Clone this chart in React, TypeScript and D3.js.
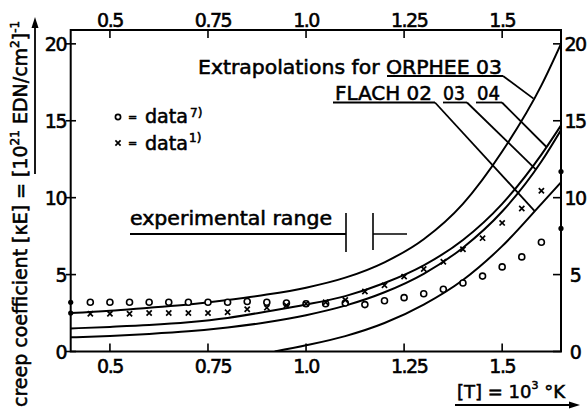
import React from 'react';
import * as d3 from 'd3';

// Axis ticks
const xTicks = [0.5, 0.75, 1.0, 1.25, 1.5];
const xTickLabels = ['0.5', '0.75', '1.0', '1.25', '1.5'];
const yTicks = [0, 5, 10, 15, 20];
const yTickLabels = ['0', '5', '10', '15', '20'];

// Extrapolated creep coefficient curves (10^21 EDN/cm^2)^-1 vs T (10^3 K)
const curveX = [0.4, 0.5, 0.6, 0.7, 0.8, 0.9, 1.0, 1.1, 1.2, 1.3, 1.4, 1.5, 1.6, 1.65];
const orphee03 = [2.5, 2.65, 2.85, 3.05, 3.35, 3.7, 4.15, 4.8, 5.8, 7.3, 9.6, 13.0, 17.3, 20.0];
const flach04 = [1.5, 1.6, 1.72, 1.9, 2.18, 2.6, 3.05, 3.6, 4.45, 5.6, 7.25, 9.6, 12.8, 14.7];
const flach03 = [0.92, 1.01, 1.14, 1.31, 1.56, 1.9, 2.36, 2.98, 3.85, 5.05, 6.75, 9.1, 12.35, 14.4];
const flach02X = [0.92, 1.0, 1.1, 1.2, 1.3, 1.4, 1.5, 1.6, 1.65];
const flach02 = [0.0, 0.4, 1.0, 1.85, 3.05, 4.65, 6.85, 9.6, 11.0];

// Measured data
const dataX = [0.4, 0.45, 0.5, 0.55, 0.6, 0.65, 0.7, 0.75, 0.8, 0.85, 0.9, 0.95, 1.0,
  1.05, 1.1, 1.15, 1.2, 1.25, 1.3, 1.35, 1.4, 1.45, 1.5, 1.55, 1.6, 1.65];
const data7 = [3.2, 3.2, 3.2, 3.2, 3.2, 3.2, 3.2, 3.2, 3.2, 3.25, 3.2, 3.15, 3.1,
  3.1, 3.15, 3.05, 3.3, 3.5, 3.75, 4.05, 4.45, 4.9, 5.5, 6.15, 7.1, 8.0];
const data1 = [2.5, 2.45, 2.45, 2.45, 2.5, 2.5, 2.5, 2.5, 2.55, 2.75, 2.85, 3.0, 3.1,
  3.2, 3.35, 3.9, 4.3, 4.87, 5.36, 5.83, 6.65, 7.37, 8.36, 9.3, 10.45, 11.7];

const X0 = 0.4, X1 = 1.65;
const x = d3.scaleLinear().domain([X0, X1]).range([70.7, 561]);
const y = d3.scaleLinear().domain([0, 20.9]).range([351.5, 30]);

const FONT = 'DejaVu Sans';

function pathOf(xs: number[], ys: number[]) {
  return d3.line<number>()
    .x((_, i) => x(xs[i]))
    .y((d) => y(d))
    .curve(d3.curveMonotoneX)(ys) as string;
}

// value of a tabulated curve at v (linear between nodes)
function valueAt(xs: number[], ys: number[], v: number) {
  const i = Math.max(1, Math.min(xs.length - 1, d3.bisectLeft(xs, v)));
  const t = (v - xs[i - 1]) / (xs[i] - xs[i - 1]);
  return ys[i - 1] + t * (ys[i] - ys[i - 1]);
}

function Cross({ cx, cy }: { cx: number; cy: number }) {
  const s = 2.6;
  return (
    <path d={`M${cx - s},${cy - s}L${cx + s},${cy + s}M${cx - s},${cy + s}L${cx + s},${cy - s}`}
      stroke="#000" strokeWidth={1.7} />
  );
}

export default function App() {
  const left = x(X0), right = x(X1), top = y(20.9), bottom = y(0);

  const curves = [
    { xs: curveX, ys: orphee03 },
    { xs: curveX, ys: flach04 },
    { xs: curveX, ys: flach03 },
    { xs: flach02X, ys: flach02 },
  ];

  // leader lines from the labels to their curves
  const leaders = [
    { from: [503, 76], xs: curveX, ys: orphee03, at: 1.58 },
    { from: [435, 102.5], xs: flach02X, ys: flach02, at: 1.583 },
    { from: [467, 102.5], xs: curveX, ys: flach03, at: 1.585 },
    { from: [502, 102.5], xs: curveX, ys: flach04, at: 1.613 },
  ];

  const edge = (v: number) => v === X0 || v === X1;

  return (
    <svg width={587} height={412} viewBox="0 0 587 412"
      style={{ position: 'absolute', left: 0, top: 0, background: '#fff' }}
      fontFamily={FONT} fill="#000">
      <defs>
        <clipPath id="plotArea">
          <rect x={left} y={top} width={right - left} height={bottom - top} />
        </clipPath>
      </defs>

      {/* frame */}
      <rect x={left} y={top} width={right - left} height={bottom - top}
        fill="none" stroke="#000" strokeWidth={2} />

      <g stroke="#000" strokeWidth={0.55}>
        {/* x ticks, bottom and top */}
        {xTicks.map((t, i) => (
          <g key={'xt' + i}>
            <line x1={x(t)} x2={x(t)} y1={bottom} y2={bottom - 8} strokeWidth={1.6} />
            <line x1={x(t)} x2={x(t)} y1={top} y2={top + 8} strokeWidth={1.6} />
            <text x={x(t) + (xTickLabels[i].length > 3 ? 5 : 0)} y={373} fontSize={19}
              textAnchor="middle" letterSpacing={-1.5}>{xTickLabels[i]}</text>
            <text x={x(t) + (xTickLabels[i].length > 3 ? 5 : 0)} y={27} fontSize={19}
              textAnchor="middle" letterSpacing={-1.5}>{xTickLabels[i]}</text>
          </g>
        ))}

        {/* y ticks, left and right */}
        {yTicks.map((t, i) => (
          <g key={'yt' + i}>
            <line x1={66} x2={76} y1={y(t)} y2={y(t)} strokeWidth={1.6} />
            <line x1={right - 8} x2={right} y1={y(t)} y2={y(t)} strokeWidth={1.6} />
            <text x={66} y={y(t) + 7} fontSize={19} textAnchor="end" letterSpacing={-1.5}>{yTickLabels[i]}</text>
            <text x={575} y={y(t) + 7} fontSize={19} textAnchor="middle" letterSpacing={-1.5}>{yTickLabels[i]}</text>
          </g>
        ))}
      </g>

      {/* curves */}
      <g clipPath="url(#plotArea)" fill="none" stroke="#000" strokeWidth={2}>
        {curves.map((c, i) => <path key={'c' + i} d={pathOf(c.xs, c.ys)} />)}
      </g>

      {/* data 7): circles */}
      {dataX.map((v, i) => edge(v)
        ? <circle key={'o' + i} cx={x(v)} cy={y(data7[i])} r={2.6} fill="#000" />
        : <circle key={'o' + i} cx={x(v)} cy={y(data7[i])} r={3} fill="#fff" stroke="#000" strokeWidth={1.6} />)}

      {/* data 1): crosses */}
      {dataX.map((v, i) => edge(v)
        ? <circle key={'x' + i} cx={x(v)} cy={y(data1[i])} r={2.6} fill="#000" />
        : <Cross key={'x' + i} cx={x(v)} cy={y(data1[i])} />)}

      {/* legend */}
      <circle cx={118} cy={117} r={2.6} fill="#fff" stroke="#000" strokeWidth={1.7} />
      <Cross cx={118} cy={143} />
      <g stroke="#000" strokeWidth={0.55}>
        <text x={128} y={121} fontSize={11}>=</text>
        <text x={145} y={123} fontSize={19} textLength={43} lengthAdjust="spacingAndGlyphs">data</text>
        <text x={190} y={117} fontSize={12}>7)</text>
        <text x={128} y={147} fontSize={11}>=</text>
        <text x={145} y={150} fontSize={19} textLength={43} lengthAdjust="spacingAndGlyphs">data</text>
        <text x={189} y={142} fontSize={12}>1)</text>
      </g>

      {/* curve labels */}
      <g stroke="#000" strokeWidth={0.55}>
        <text x={198} y={73.5} fontSize={20} textLength={304} lengthAdjust="spacingAndGlyphs">Extrapolations for ORPHEE 03</text>
        <text x={335} y={99.5} fontSize={20} textLength={97} lengthAdjust="spacingAndGlyphs">FLACH 02</text>
        <text x={443} y={99.5} fontSize={20} textLength={22} lengthAdjust="spacingAndGlyphs">03</text>
        <text x={477} y={99.5} fontSize={20} textLength={23} lengthAdjust="spacingAndGlyphs">04</text>
      </g>
      <line x1={387} x2={503} y1={76} y2={76} stroke="#000" strokeWidth={1.8} />
      <line x1={333} x2={435} y1={102.5} y2={102.5} stroke="#000" strokeWidth={1.8} />
      <line x1={443} x2={467} y1={102.5} y2={102.5} stroke="#000" strokeWidth={1.8} />
      <line x1={476} x2={502} y1={102.5} y2={102.5} stroke="#000" strokeWidth={1.8} />
      {leaders.map((l, i) => (
        <line key={'l' + i} x1={l.from[0]} y1={l.from[1]}
          x2={x(l.at)} y2={y(valueAt(l.xs, l.ys, l.at))} stroke="#000" strokeWidth={1.8} />
      ))}

      {/* experimental range marker */}
      <text x={130} y={225} fontSize={19} textLength={202} lengthAdjust="spacingAndGlyphs"
        stroke="#000" strokeWidth={0.55}>experimental range</text>
      <line x1={130} x2={346} y1={234} y2={234} stroke="#000" strokeWidth={1.8} />
      <line x1={346} x2={346} y1={213} y2={252} stroke="#000" strokeWidth={1.6} />
      <line x1={373} x2={373} y1={213} y2={250} stroke="#000" strokeWidth={1.6} />
      <line x1={373} x2={407} y1={234} y2={234} stroke="#000" strokeWidth={1.6} />

      {/* x axis title with arrow */}
      <text x={457} y={398} fontSize={18} stroke="#000" strokeWidth={0.55}>
        [T] = 10<tspan fontSize={11} dy={-9}>3</tspan><tspan dy={9}> °K</tspan>
      </text>
      <line x1={455} x2={572} y1={405} y2={405} stroke="#000" strokeWidth={1.8} />
      <path d="M580,405 L569,401.5 L569,408.5 Z" fill="#000" />

      {/* y axis title with arrow */}
      <g transform="translate(27,407) rotate(-90)" stroke="#000" strokeWidth={0.55}>
        <text x={0} y={0} fontSize={19} textLength={224} lengthAdjust="spacingAndGlyphs">creep coefficient [κE] =</text>
      </g>
      <g transform="translate(27,177) rotate(-90)" stroke="#000" strokeWidth={0.55}>
        <text x={0} y={0} fontSize={19}>
          [10<tspan fontSize={12} dy={-8}>21</tspan><tspan dy={8}> EDN/cm</tspan><tspan fontSize={12} dy={-8}>2</tspan><tspan dy={8}>]</tspan><tspan fontSize={12} dy={-8}>-1</tspan>
        </text>
      </g>
      <line x1={35} x2={35} y1={174} y2={26} stroke="#000" strokeWidth={1.8} />
      <path d="M35,17 L31.5,28 L38.5,28 Z" fill="#000" />
    </svg>
  );
}
